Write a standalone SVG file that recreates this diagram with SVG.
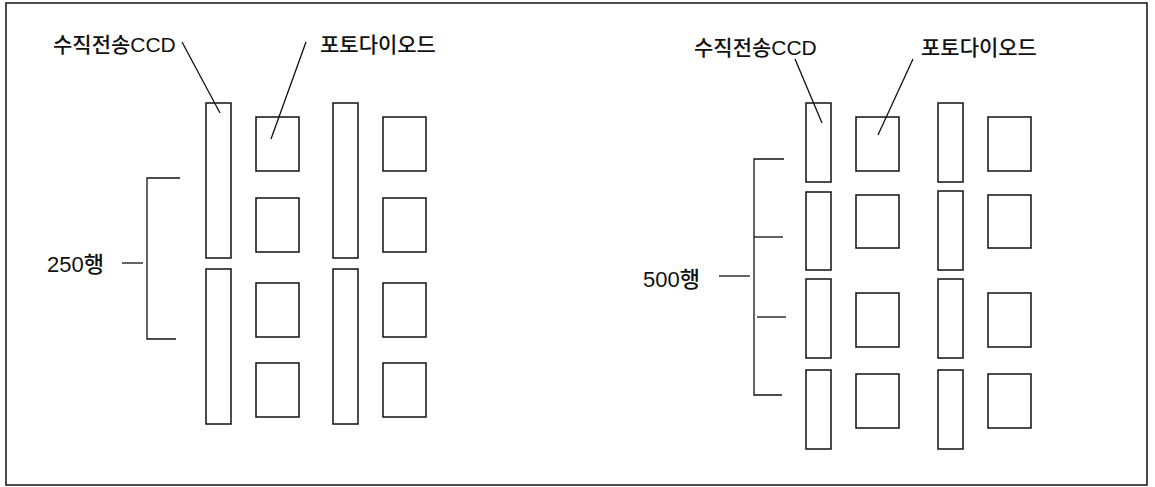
<svg xmlns="http://www.w3.org/2000/svg" width="1155" height="487" viewBox="0 0 1155 487">
<style>
.frame{fill:#fff;stroke:#111;stroke-width:1.5}
.box{fill:#fff;stroke:#111;stroke-width:1.5}
.ln{fill:none;stroke:#111;stroke-width:1.3}
text{font-family:"Liberation Sans","Noto Sans CJK KR",sans-serif;fill:#111;font-weight:500}
.lbl{font-size:21px}
.row{font-size:22px}
</style>
<rect class="frame" x="6" y="3" width="1141" height="482"/>
<g id="left-panel">
  <g id="L-ccd1"><rect class="box" x="206" y="103" width="25" height="155"/><rect class="box" x="206" y="269" width="25" height="155"/></g>
  <g id="L-pd1"><rect class="box" x="256" y="117" width="43" height="54"/><rect class="box" x="256" y="198" width="43" height="54"/><rect class="box" x="256" y="283" width="43" height="54"/><rect class="box" x="256" y="363" width="43" height="54"/></g>
  <g id="L-ccd2"><rect class="box" x="333" y="103" width="25" height="155"/><rect class="box" x="333" y="269" width="25" height="155"/></g>
  <g id="L-pd2"><rect class="box" x="383" y="117" width="43" height="54"/><rect class="box" x="383" y="198" width="43" height="54"/><rect class="box" x="383" y="283" width="43" height="54"/><rect class="box" x="383" y="363" width="43" height="54"/></g>
  <g id="L-label-ccd"><text class="lbl" x="53" y="52">수직전송CCD</text></g>
  <g id="L-label-pd"><text class="lbl" x="320" y="52">포토다이오드</text></g>
  <g id="L-label-rows"><text class="row" x="47" y="272">250행</text></g>
</g>
<g id="right-panel">
  <g id="R-ccd1"><rect class="box" x="806" y="103" width="25" height="79"/><rect class="box" x="806" y="192" width="25" height="78"/><rect class="box" x="806" y="279" width="25" height="79"/><rect class="box" x="806" y="370" width="25" height="79"/></g>
  <g id="R-pd1"><rect class="box" x="856" y="117" width="43" height="54"/><rect class="box" x="856" y="195" width="43" height="53"/><rect class="box" x="856" y="293" width="43" height="54"/><rect class="box" x="856" y="374" width="43" height="54"/></g>
  <g id="R-ccd2"><rect class="box" x="938" y="103" width="25" height="79"/><rect class="box" x="938" y="191" width="25" height="79"/><rect class="box" x="938" y="279" width="25" height="79"/><rect class="box" x="938" y="370" width="25" height="79"/></g>
  <g id="R-pd2"><rect class="box" x="988" y="117" width="43" height="54"/><rect class="box" x="988" y="195" width="43" height="53"/><rect class="box" x="988" y="293" width="43" height="54"/><rect class="box" x="988" y="374" width="43" height="54"/></g>
  <g id="R-label-ccd"><text class="lbl" x="694" y="55">수직전송CCD</text></g>
  <g id="R-label-pd"><text class="lbl" x="921" y="55">포토다이오드</text></g>
  <g id="R-label-rows"><text class="row" x="643" y="287">500행</text></g>
</g>
<g id="connectors">
  <line class="ln" x1="182" y1="42" x2="220" y2="113"/>
  <line class="ln" x1="306" y1="42" x2="271" y2="139"/>
  <polyline class="ln" points="180,178 147,178 147,339 176,339"/>
  <line class="ln" x1="122" y1="263" x2="143" y2="263"/>
  <line class="ln" x1="795" y1="59" x2="822" y2="123"/>
  <line class="ln" x1="913" y1="59" x2="878" y2="135"/>
  <polyline class="ln" points="784,159 754,159 754,395 782,395"/>
  <line class="ln" x1="754" y1="237" x2="783" y2="237"/>
  <line class="ln" x1="757" y1="317" x2="786" y2="317"/>
  <line class="ln" x1="719" y1="276" x2="750" y2="276"/>
</g>
</svg>
